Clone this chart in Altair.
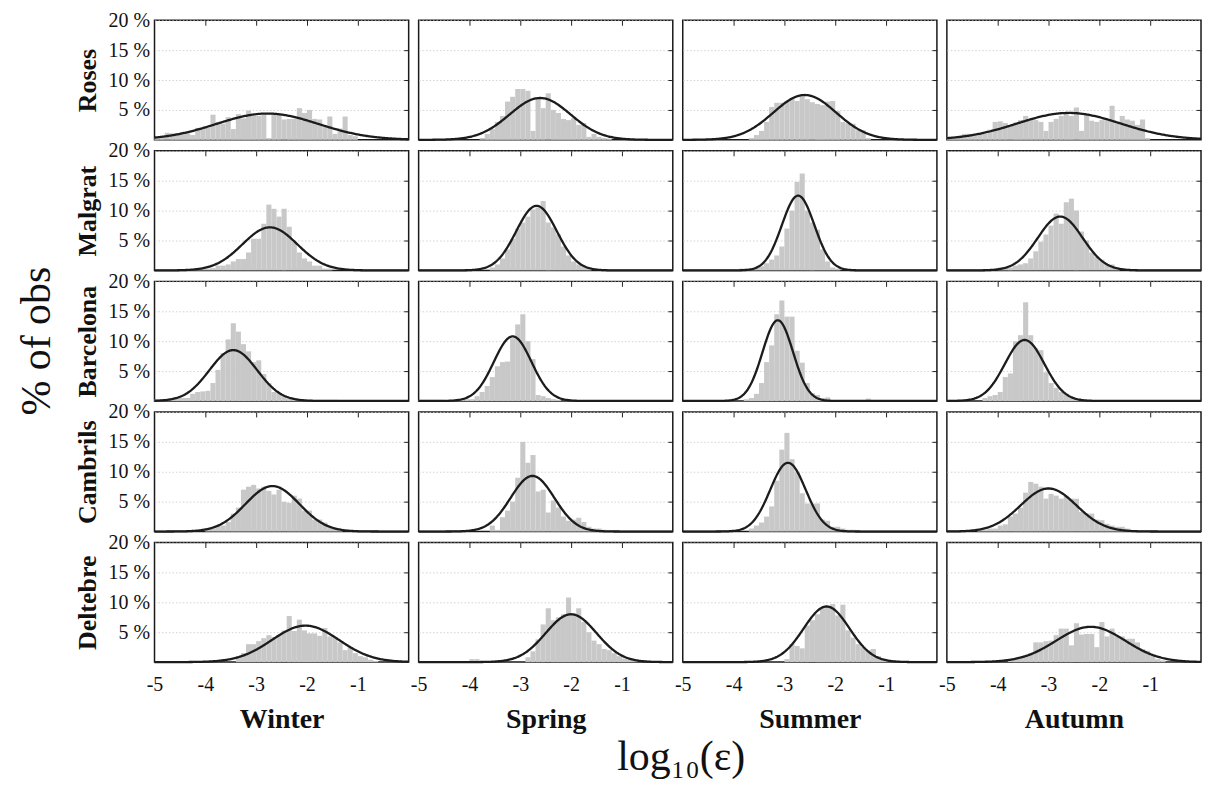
import altair as alt
import numpy as np
import pandas as pd

SITES = ["Roses", "Malgrat", "Barcelona", "Cambrils", "Deltebre"]
SEASONS = ["Winter", "Spring", "Summer", "Autumn"]
X_TICKS = [-5, -4, -3, -2, -1]
X_INNER_TICKS = [-4, -3, -2, -1]
Y_TICKS = [5, 10, 15, 20]
Y_INNER_TICKS = [5, 10, 15]
BIN_WIDTH = 0.1
X_START = -5.0

# Histogram heights (% of obs): (index of first 0.1-wide bin counted from -5, heights)
roses_winter = (0, [0.3, 0.6, 1.2, 1.1, 1.1, 1.2, 1.1, 0.8, 2.0, 2.0, 2.0, 4.2, 3.0, 2.7, 3.8, 1.8, 4.3, 3.6, 4.9, 4.0,
                    4.0, 4.2, 0.3, 4.4, 4.2, 3.4, 3.5, 3.5, 5.3, 4.5, 5.0, 3.5, 3.4, 2.1, 3.9, 1.0, 1.9, 3.9, 0.8, 0.6])
roses_spring = (12, [0.3, 1.0, 1.8, 3.0, 4.0, 6.4, 7.2, 8.5, 8.5, 8.2, 1.5, 7.0, 5.3, 7.8, 5.0, 4.5, 3.5, 3.3, 3.6, 2.5,
                     2.8, 0.5, 1.0, 0.5, 0.3, 0.2])
roses_summer = (13, [0.3, 0.8, 1.5, 3.0, 5.5, 6.2, 6.2, 6.5, 7.0, 6.5, 7.3, 6.8, 6.3, 6.0, 5.8, 6.4, 6.5, 4.8, 3.0, 2.8,
                     2.7, 1.6, 1.6, 0.3])
roses_autumn = (0, [0.5, 0.5, 0.5, 1.0, 1.0, 0.7, 1.0, 1.0, 1.7, 3.0, 3.1, 2.8, 2.3, 2.9, 3.3, 4.0, 3.5, 3.3, 3.0, 1.5,
                    3.0, 3.5, 4.0, 4.5, 4.0, 5.4, 1.5, 4.3, 3.2, 3.0, 3.3, 3.3, 5.7, 2.8, 4.0, 3.4, 3.2, 2.5, 3.4, 0.3])

malgrat_winter = (4, [0.2, 0.2, 0.2, 0.2, 0.3, 0.3, 0.3, 0.4, 0.8, 0.8, 1.0, 1.5, 1.9, 1.9, 3.0, 5.3, 5.3, 7.8, 11.0,
                      10.3, 9.0, 10.3, 7.3, 4.8, 3.0, 2.0, 1.5, 0.8, 0.8, 0.3, 0.3])
malgrat_spring = (14, [0.5, 1.0, 2.0, 3.5, 5.3, 7.0, 8.0, 9.0, 10.2, 10.5, 11.6, 8.0, 7.2, 6.0, 4.0, 2.5, 1.5, 1.0, 0.8,
                       0.3])
malgrat_summer = (11, [0.3, 0.3, 0.3, 0.5, 0.7, 1.2, 1.8, 2.5, 4.0, 7.0, 10.0, 14.8, 16.2, 10.0, 8.0, 6.8, 3.5, 1.5,
                       0.5, 0.3])
malgrat_autumn = (10, [0.5, 0.5, 0.5, 0.8, 1.0, 1.2, 2.0, 3.2, 4.8, 6.0, 7.5, 9.5, 7.8, 11.4, 12.0, 10.0, 6.5, 5.0, 3.0,
                       2.3, 1.8, 1.1, 1.0, 0.3])

barcelona_winter = (0, [0.3, 0.3, 0.3, 0.3, 0.5, 0.5, 0.5, 1.2, 1.5, 1.6, 1.7, 3.0, 5.2, 8.0, 10.3, 13.0, 11.6, 9.5, 8.3,
                        6.5, 6.8, 4.5, 3.0, 1.5, 1.3, 0.8, 0.4, 0.3, 0.3, 0.2, 0.2, 0.2, 0.2, 0.2, 0.2, 0.2, 0.1, 0.1,
                        0.1])
barcelona_spring = (0, [0.2, 0.2, 0.2, 0.2, 0.2, 0, 0, 0, 0.3, 0.3, 0.3, 0.8, 1.5, 2.5, 4.0, 5.8, 6.5, 6.6, 10.5, 12.8,
                        14.5, 10.0, 7.0, 1.0, 0.8, 0.5, 0.3, 0.2])
barcelona_summer = (12, [0.3, 0.5, 1.2, 3.0, 6.5, 9.3, 14.5, 16.8, 14.1, 14.1, 8.4, 6.4, 3.0, 1.3, 1.0, 0.5, 0.6, 0, 0,
                         0, 0, 0, 0, 0, 0.4])
barcelona_autumn = (0, [0.2, 0.2, 0.2, 0, 0, 0, 0, 0.5, 0.8, 1.0, 1.5, 4.0, 4.6, 10.0, 11.0, 16.5, 11.0, 8.8, 8.5, 4.8,
                        3.0, 2.2, 1.5, 1.2, 0.5, 0.3])

cambrils_winter = (10, [0.5, 0.5, 1.0, 1.0, 1.6, 3.0, 4.0, 7.0, 7.5, 7.8, 7.2, 7.5, 6.8, 6.2, 7.0, 5.0, 4.8, 6.0, 5.5,
                        3.5, 3.5, 2.0, 2.0, 1.5, 0.8, 0.5, 0.2])
cambrils_spring = (14, [1.0, 0.2, 2.4, 3.5, 5.0, 9.0, 15.0, 11.5, 12.8, 6.7, 7.0, 3.2, 5.2, 4.0, 2.5, 1.8, 2.0, 2.3, 1.6,
                        0.8, 0.5, 0.5, 0.3])
cambrils_summer = (13, [0.5, 1.0, 1.5, 2.5, 4.2, 8.5, 13.7, 16.5, 12.1, 10.0, 6.4, 4.7, 4.7, 4.7, 2.0, 1.8, 0.8, 0.8,
                        0.5, 0.3, 0.3, 0.2])
cambrils_autumn = (6, [0.3, 0.3, 0.5, 0.5, 1.0, 1.2, 2.5, 3.0, 4.0, 6.5, 8.3, 8.0, 7.5, 5.5, 6.3, 6.0, 5.5, 6.0, 5.5,
                       5.5, 3.3, 3.0, 3.0, 2.0, 1.9, 1.3, 1.0, 0.8, 0.8, 0.5])

deltebre_winter = (16, [1.0, 1.5, 3.0, 3.0, 3.5, 4.0, 4.5, 4.2, 4.5, 5.3, 7.7, 5.2, 7.1, 5.3, 4.8, 4.8, 4.4, 5.7, 4.3,
                        4.1, 3.3, 2.0, 2.5, 1.5, 1.0, 0.8, 0.4, 0.2])
deltebre_spring = (10, [0.5, 0.5, 0, 0, 0, 0, 0, 0, 0, 0, 0, 0.8, 1.8, 3.8, 6.3, 9.0, 7.0, 7.5, 8.0, 10.8, 8.1, 9.0, 6.7,
                        5.0, 3.6, 3.0, 2.2, 2.0, 1.5, 1.0, 0.6, 0.4, 0.2])
deltebre_summer = (20, [0.5, 3.0, 2.7, 2.3, 6.1, 7.0, 8.0, 9.0, 9.3, 9.7, 7.8, 9.6, 5.3, 4.1, 3.0, 2.5, 2.0, 2.2, 1.0,
                        0.6, 0.4, 0.3, 0.2])
deltebre_autumn = (12, [0.5, 0.5, 1.0, 1.2, 1.5, 3.3, 3.3, 3.5, 3.6, 4.5, 5.6, 5.6, 2.8, 6.5, 4.6, 4.7, 4.7, 2.5, 6.7,
                        4.3, 5.6, 4.3, 4.3, 3.9, 3.9, 3.3, 2.2, 1.9, 1.0, 0.5, 0.3])

HIST = [
    [roses_winter, roses_spring, roses_summer, roses_autumn],
    [malgrat_winter, malgrat_spring, malgrat_summer, malgrat_autumn],
    [barcelona_winter, barcelona_spring, barcelona_summer, barcelona_autumn],
    [cambrils_winter, cambrils_spring, cambrils_summer, cambrils_autumn],
    [deltebre_winter, deltebre_spring, deltebre_summer, deltebre_autumn],
]

# Fitted normal curves (rows = sites, columns = seasons)
FIT_MEAN = [[-2.78, -2.61, -2.60, -2.60],
            [-2.73, -2.68, -2.73, -2.77],
            [-3.45, -3.15, -3.13, -3.47],
            [-2.68, -2.76, -2.93, -3.00],
            [-2.03, -2.00, -2.17, -2.17]]
FIT_SD = [[1.00, 0.60, 0.62, 1.02],
          [0.54, 0.40, 0.32, 0.44],
          [0.47, 0.37, 0.30, 0.39],
          [0.53, 0.43, 0.35, 0.55],
          [0.66, 0.50, 0.45, 0.68]]
FIT_PEAK = [[4.4, 7.0, 7.5, 4.5],
            [7.2, 10.8, 12.5, 9.0],
            [8.5, 10.8, 13.5, 10.2],
            [7.6, 9.3, 11.5, 7.2],
            [6.1, 8.0, 9.3, 5.9]]

records = []
grid_x = np.linspace(-5.0, 0.0, 251)
for r, site in enumerate(SITES):
    for c, season in enumerate(SEASONS):
        first, heights = HIST[r][c]
        for k, h in enumerate(heights):
            if h <= 0:
                continue
            x0 = X_START + (first + k) * BIN_WIDTH
            records.append({"site": site, "season": season, "kind": "bar",
                            "x0": round(x0, 4), "x1": round(x0 + BIN_WIDTH, 4), "pct": h, "zero": 0.0})
        mu, sd, pk = FIT_MEAN[r][c], FIT_SD[r][c], FIT_PEAK[r][c]
        for x in grid_x:
            records.append({"site": site, "season": season, "kind": "fit", "zero": 0.0,
                            "x": float(x), "fit": float(pk * np.exp(-0.5 * ((x - mu) / sd) ** 2))})
df = pd.DataFrame(records)

FONT = "Liberation Serif"
INK = "#111111"
W, H = 255, 120
xscale = alt.Scale(domain=[-5, 0], nice=False, zero=False)
yscale = alt.Scale(domain=[0, 20], nice=False)

top_ticks = alt.Axis(orient="top", values=X_INNER_TICKS, labels=False, ticks=True, tickSize=5,
                     tickColor="#222222", tickWidth=1, domain=False, grid=False, offset=-5, title=None,
                     minExtent=0, maxExtent=0, zindex=1)
right_ticks = alt.Axis(orient="right", values=Y_INNER_TICKS, labels=False, ticks=True, tickSize=5,
                       tickColor="#222222", tickWidth=1, domain=False, grid=False, offset=-5, title=None,
                       minExtent=0, maxExtent=0, zindex=1)


def make_panel(r, c):
    site, season = SITES[r], SEASONS[c]
    left = c == 0
    bottom = r == len(SITES) - 1
    sel = (alt.datum.site == site) & (alt.datum.season == season)

    yaxis_kw = dict(values=Y_TICKS, grid=True, gridColor="#c8c8c8", gridDash=[1.5, 2], gridWidth=0.8,
                    ticks=False, domain=False)
    if left:
        yaxis = alt.Axis(labelExpr="datum.value + ' %'", labelFont=FONT, labelFontSize=20, labelColor=INK,
                         labelPadding=5, labelFlush=False, title=site, titleFont=FONT, titleFontSize=26,
                         titleFontWeight="bold", titleColor=INK, titlePadding=8, **yaxis_kw)
    else:
        yaxis = alt.Axis(labels=False, title=None, minExtent=0, **yaxis_kw)
    if bottom:
        xaxis = alt.Axis(values=X_TICKS, labelExpr="'' + datum.value", grid=False, ticks=False, domain=False,
                         labelFont=FONT, labelFontSize=20, labelColor=INK, labelPadding=12, labelFlush=False,
                         title=season, titleFont=FONT, titleFontSize=28, titleFontWeight="bold",
                         titleColor=INK, titlePadding=12)
    else:
        xaxis = None

    bars = alt.Chart().transform_filter(sel).transform_filter(alt.datum.kind == "bar").mark_rect(
        color="#c8c8c8").encode(
        x=alt.X("x0:Q", scale=xscale, axis=xaxis),
        x2="x1:Q",
        y=alt.Y("pct:Q", scale=yscale, axis=yaxis),
        y2="zero:Q",
    )
    fit = alt.Chart().transform_filter(sel).transform_filter(alt.datum.kind == "fit").mark_line(
        color="#1c1c1c", strokeWidth=2.3).encode(
        x=alt.X("x:Q", scale=xscale, axis=None),
        y=alt.Y("fit:Q", scale=yscale, axis=None),
        order="x:Q",
    )
    ticks = alt.Chart().transform_filter(sel).transform_filter(alt.datum.kind == "fit").mark_line(
        opacity=0).encode(
        x=alt.X("x:Q", scale=xscale, axis=top_ticks),
        y=alt.Y("fit:Q", scale=yscale, axis=right_ticks),
    )
    return alt.layer(bars, fit, ticks).resolve_axis(x="independent", y="independent").properties(
        width=W, height=H)


panels = [make_panel(r, c) for r in range(len(SITES)) for c in range(len(SEASONS))]

grid = alt.concat(*panels, columns=4, spacing={"row": 11, "column": 10}, bounds="flush").properties(
    title=alt.TitleParams("% of obs", orient="left", anchor="middle", font=FONT, fontSize=42,
                          fontWeight="normal", color=INK, offset=14, dx=31)
)

chart = alt.vconcat(grid, data=df).properties(
    title=alt.TitleParams("log₁₀(ε)", orient="bottom", anchor="middle", font=FONT, fontSize=42,
                          fontWeight="normal", color=INK, offset=3, dx=70),
    padding={"left": 8, "top": 0, "right": 0, "bottom": 0},
).configure_view(stroke="#1a1a1a", strokeWidth=1.5)

chart.save("out.html", embed_options={"renderer": "svg", "actions": False})
